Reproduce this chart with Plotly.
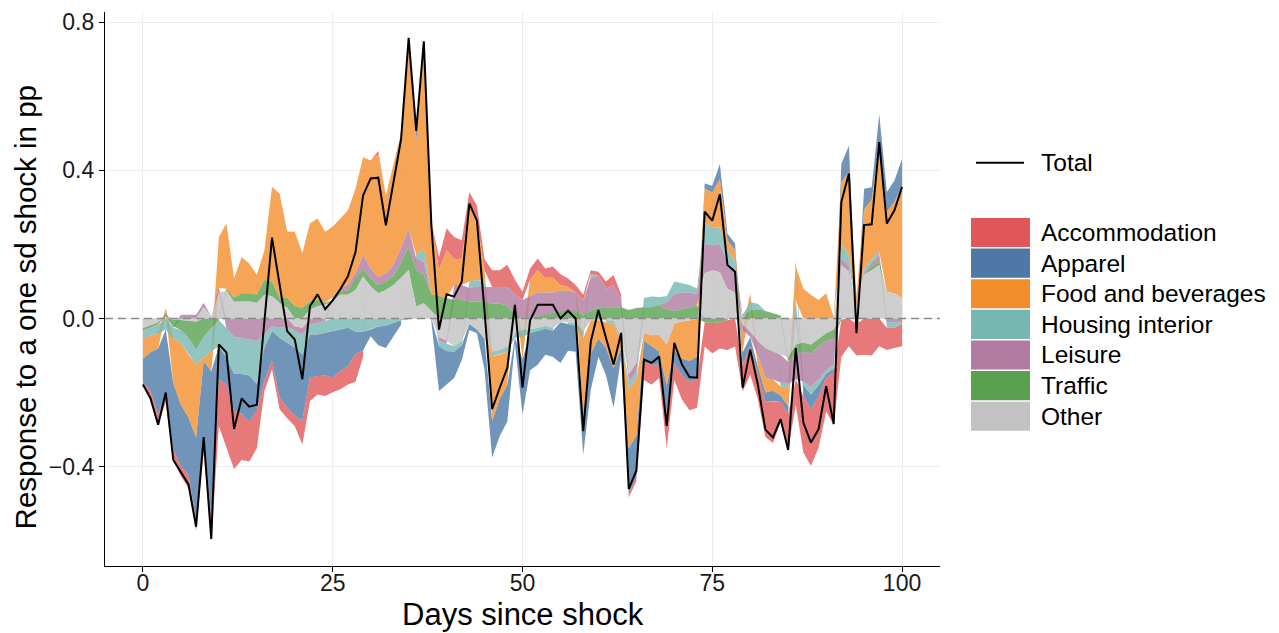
import numpy as np
import plotly.graph_objects as go

# ---- data -------------------------------------------------------------
days = list(range(101))

accommodation = [
    -0.006, -0.020, -0.027, -0.022, -0.027, -0.027, -0.036, -0.027, -0.047, -0.063,
    -0.125, -0.170, -0.156, -0.125, -0.107, -0.103, -0.028, -0.023, -0.032, -0.029,
    -0.029, -0.064, -0.064, -0.050, -0.055, -0.040, -0.050, -0.050, -0.075, -0.017,
    0.000, 0.009, 0.000, 0.000, 0.000, 0.000, 0.000, 0.000, 0.000, 0.036,
    0.058, 0.060, 0.050, 0.031, 0.040, 0.030, 0.045, 0.045, 0.060, 0.040,
    0.022, 0.030, 0.032, 0.025, 0.030, 0.030, 0.023, 0.020, 0.014, 0.010,
    0.011, 0.020, 0.027, 0.014, -0.008, -0.014, -0.056, -0.054, -0.036, -0.100,
    -0.046, -0.066, -0.078, -0.079, -0.066, -0.082, -0.071, -0.080, -0.076, -0.070,
    -0.077, -0.068, -0.095, -0.111, -0.057, -0.098, -0.068, -0.152, -0.153, -0.139,
    -0.091, -0.143, -0.100, -0.075, -0.085, -0.098, -0.100, -0.075, -0.060, -0.055,
    -0.060,
]
apparel = [
    -0.063, -0.105, -0.179, -0.175, -0.180, -0.166, -0.155, -0.224, -0.200, -0.394,
    -0.090, -0.072, -0.100, -0.107, -0.125, -0.071, -0.089, -0.080, -0.161, -0.174,
    -0.183, -0.179, -0.116, -0.112, -0.116, -0.125, -0.112, -0.103, -0.060, -0.050,
    -0.018, -0.050, -0.060, -0.035, -0.012, 0.000, 0.030, 0.018, -0.010, -0.121,
    -0.090, -0.071, -0.040, -0.016, -0.010, -0.085, -0.098, -0.100, -0.098, -0.016,
    -0.149, -0.100, -0.090, -0.070, -0.070, -0.110, -0.072, -0.070, -0.100, -0.097,
    -0.048, -0.073, -0.106, -0.023, -0.125, -0.110, -0.050, -0.050, -0.036, -0.070,
    -0.035, -0.045, -0.055, -0.060, 0.013, 0.018, 0.040, 0.019, 0.017, -0.035,
    -0.025, -0.020, -0.025, -0.030, -0.015, -0.020, 0.013, -0.030, -0.040, -0.030,
    -0.010, -0.010, 0.050, 0.070, -0.010, 0.056, 0.034, 0.076, 0.054, 0.058,
    0.071,
]
food = [
    -0.054, -0.045, -0.040, 0.013, -0.120, -0.166, -0.170, -0.197, -0.010, -0.054,
    0.138, 0.176, 0.053, 0.098, 0.080, 0.054, 0.080, 0.255, 0.282, 0.179,
    0.201, 0.147, 0.210, 0.219, 0.192, 0.190, 0.188, 0.201, 0.228, 0.264,
    0.291, 0.331, 0.210, 0.271, 0.310, 0.517, 0.304, 0.541, 0.195, 0.070,
    0.130, 0.070, 0.071, 0.210, 0.160, 0.030, -0.175, -0.120, -0.090, 0.000,
    -0.060, 0.045, 0.060, 0.040, 0.040, 0.015, 0.010, 0.000, -0.215, -0.090,
    -0.050, -0.070, -0.120, -0.020, -0.160, -0.150, -0.020, -0.030, -0.045, -0.110,
    -0.070, -0.100, -0.110, -0.100, 0.094, 0.094, 0.130, 0.025, 0.030, -0.060,
    0.024, -0.030, -0.040, -0.030, -0.025, -0.050, 0.090, 0.081, 0.063, 0.050,
    0.068, 0.003, 0.165, 0.225, 0.030, 0.160, 0.160, 0.295, 0.215, 0.246,
    0.304,
]
housing = [
    -0.020, -0.020, -0.024, -0.030, -0.030, -0.036, -0.045, -0.040, -0.055, -0.063,
    -0.070, -0.080, -0.100, -0.098, -0.098, -0.116, -0.036, -0.013, -0.027, -0.045,
    -0.045, -0.054, -0.027, -0.031, -0.031, -0.034, -0.029, -0.025, -0.036, -0.036,
    -0.030, -0.022, -0.020, -0.013, -0.005, -0.003, 0.010, 0.036, 0.000, -0.015,
    -0.020, -0.015, -0.012, 0.018, 0.018, 0.015, -0.013, -0.012, -0.015, -0.012,
    -0.020, -0.010, -0.010, -0.008, -0.008, 0.000, -0.005, -0.008, -0.018, 0.010,
    0.000, -0.005, -0.010, -0.010, -0.020, -0.020, 0.025, 0.029, 0.022, 0.017,
    0.035, 0.025, 0.020, 0.016, 0.054, 0.049, 0.045, 0.035, 0.035, 0.010,
    0.022, 0.015, 0.000, 0.000, -0.010, -0.010, 0.050, -0.010, -0.020, -0.015,
    -0.010, -0.010, 0.040, 0.030, 0.000, 0.012, 0.010, 0.009, -0.015, -0.015,
    -0.005,
]
leisure = [
    -0.003, -0.002, -0.002, 0.004, -0.003, 0.010, 0.010, 0.010, 0.012, 0.000,
    0.012, -0.026, -0.050, -0.052, -0.056, -0.061, -0.043, -0.021, -0.025, -0.021,
    -0.013, -0.018, -0.016, -0.012, -0.007, 0.008, 0.009, 0.015, 0.018, 0.036,
    0.027, 0.022, 0.022, 0.030, 0.040, 0.049, 0.030, 0.036, 0.000, -0.010,
    -0.008, 0.040, 0.040, 0.036, 0.040, 0.040, 0.045, 0.045, 0.050, 0.055,
    0.050, 0.060, 0.065, 0.060, 0.055, 0.055, 0.055, 0.050, 0.040, 0.090,
    0.085, 0.050, 0.060, 0.020, -0.020, -0.025, 0.000, 0.000, 0.000, 0.018,
    0.045, 0.045, 0.040, 0.030, 0.081, 0.067, 0.076, 0.070, 0.050, -0.015,
    -0.015, -0.040, -0.080, -0.075, -0.075, -0.060, -0.070, -0.080, -0.090, -0.090,
    -0.080, -0.070, 0.018, 0.015, -0.005, 0.005, 0.010, 0.018, -0.010, -0.010,
    -0.010,
]
traffic = [
    -0.006, -0.007, -0.005, 0.005, -0.018, -0.027, -0.047, -0.076, -0.050, -0.026,
    -0.005, 0.005, 0.010, 0.022, 0.022, 0.022, 0.040, 0.040, 0.013, 0.027,
    0.033, 0.029, 0.022, 0.018, 0.004, 0.004, 0.009, 0.012, 0.027, 0.022,
    0.022, 0.022, 0.022, 0.025, 0.040, 0.063, 0.100, 0.076, 0.045, 0.060,
    0.055, 0.050, 0.050, 0.046, 0.046, 0.045, 0.040, 0.040, 0.035, 0.010,
    0.000, 0.000, 0.005, 0.010, 0.015, 0.020, 0.020, 0.020, 0.010, 0.020,
    0.030, 0.030, 0.030, 0.030, 0.023, 0.028, 0.030, 0.030, 0.036, 0.025,
    0.020, 0.025, 0.030, 0.035, -0.010, -0.012, -0.010, -0.005, 0.000, 0.000,
    0.022, 0.025, 0.020, 0.015, 0.008, -0.012, -0.025, -0.025, -0.025, -0.020,
    -0.020, -0.025, -0.003, 0.000, 0.000, 0.000, 0.010, 0.009, 0.000, 0.000,
    0.000,
]
other = [
    -0.026, -0.017, -0.010, 0.005, -0.004, -0.004, -0.005, -0.008, 0.030, 0.005,
    0.070, 0.075, 0.045, 0.046, 0.046, 0.042, 0.064, 0.060, 0.042, 0.029,
    -0.021, -0.025, 0.024, 0.033, 0.038, 0.046, 0.064, 0.064, 0.077, 0.113,
    0.086, 0.068, 0.077, 0.090, 0.110, 0.131, 0.032, 0.041, 0.020, -0.050,
    -0.060, -0.075, -0.060, -0.015, -0.030, -0.055, -0.089, -0.085, -0.075, -0.040,
    -0.030, -0.030, -0.025, -0.020, -0.025, -0.010, -0.010, -0.012, -0.035, -0.005,
    -0.005, -0.005, -0.005, -0.050, -0.150, -0.120, -0.040, -0.045, -0.044, -0.070,
    -0.015, -0.008, -0.005, -0.002, 0.122, 0.130, 0.125, 0.080, 0.070, -0.017,
    -0.035, -0.060, -0.080, -0.090, -0.098, -0.105, -0.070, -0.065, -0.070, -0.055,
    -0.040, -0.030, 0.144, 0.126, 0.030, 0.117, 0.130, 0.144, 0.072, 0.068,
    0.055,
]

categories = ["Accommodation", "Apparel", "Food and beverages",
              "Housing interior", "Leisure", "Traffic", "Other"]
colors = ["#E15759", "#4E79A7", "#F28E2B", "#76B7B2", "#B07AA1", "#59A14F", "#C2C2C2"]

x_ticks = [0, 25, 50, 75, 100]
x_ticklabels = ["0", "25", "50", "75", "100"]
y_ticks = [-0.4, 0.0, 0.4, 0.8]
y_ticklabels = ["\u22120.4", "0.0", "0.4", "0.8"]

FONT = "Liberation Sans, Arial, Helvetica, sans-serif"


def rgba(hex_color, alpha):
    h = hex_color.lstrip("#")
    r, g, b = int(h[0:2], 16), int(h[2:4], 16), int(h[4:6], 16)
    return f"rgba({r},{g},{b},{alpha})"


# ---- stacking: positives upward, negatives downward, first category outermost
vals = np.array([accommodation, apparel, food, housing, leisure, traffic, other])
n_cat, n_day = vals.shape
lower = np.zeros_like(vals)
upper = np.zeros_like(vals)
pos_base = np.zeros(n_day)
neg_base = np.zeros(n_day)
for i in reversed(range(n_cat)):
    v = vals[i]
    is_pos = v >= 0
    lower[i] = np.where(is_pos, pos_base, neg_base + v)
    upper[i] = np.where(is_pos, pos_base + v, neg_base)
    pos_base = np.where(is_pos, pos_base + v, pos_base)
    neg_base = np.where(is_pos, neg_base, neg_base + v)
total = vals.sum(axis=0)

fig = go.Figure()

x_arr = np.array(days)
for i, name in enumerate(categories):
    fig.add_trace(go.Scatter(
        x=np.concatenate([x_arr, x_arr[::-1]]),
        y=np.concatenate([upper[i], lower[i][::-1]]),
        fill="toself",
        fillcolor=rgba(colors[i], 0.8),
        line=dict(width=0),
        mode="lines",
        name=name,
        hoverinfo="skip",
        showlegend=False,
    ))

# zero reference line
fig.add_trace(go.Scatter(
    x=[-5, 105], y=[0, 0], mode="lines",
    line=dict(color="#8a8a8a", width=1.5, dash="8px,5px"),
    hoverinfo="skip", showlegend=False,
))

# total response
fig.add_trace(go.Scatter(
    x=days, y=total, mode="lines", name="Total",
    line=dict(color="black", width=2),
    showlegend=False,
))

# ---- hand-drawn legend (paper coordinates) ---------------------------
L, R, T, B = 105, 940, 9, 566


def px_x(px):
    return (px - L) / (R - L)


def px_y(py):
    return (B - py) / (B - T)


shapes = []
annotations = []

# Total key
shapes.append(dict(type="line", xref="paper", yref="paper",
                   x0=px_x(976), x1=px_x(1024), y0=px_y(160.5), y1=px_y(160.5),
                   line=dict(color="black", width=2)))
annotations.append(dict(xref="paper", yref="paper", x=px_x(1039), y=px_y(160.5),
                        text="Total", showarrow=False, xanchor="left", yanchor="middle",
                        font=dict(family=FONT, size=24.5, color="black")))

box_top0, box_step, box_h = 216.0, 30.8, 29.3
for i, name in enumerate(categories):
    top = box_top0 + i * box_step
    shapes.append(dict(type="rect", xref="paper", yref="paper",
                       x0=px_x(971), x1=px_x(1030), y0=px_y(top + box_h), y1=px_y(top),
                       fillcolor=colors[i], line=dict(width=0)))
    annotations.append(dict(xref="paper", yref="paper", x=px_x(1039), y=px_y(top + box_h / 2),
                            text=name, showarrow=False, xanchor="left", yanchor="middle",
                            font=dict(family=FONT, size=24.5, color="black")))

# axis titles
annotations.append(dict(xref="paper", yref="paper", x=0.5, y=px_y(615),
                        text="Days since shock", showarrow=False,
                        xanchor="center", yanchor="middle",
                        font=dict(family=FONT, size=31, color="black")))
annotations.append(dict(xref="paper", yref="paper", x=px_x(25), y=px_y(306),
                        text="Response to a one sd shock in pp", showarrow=False,
                        textangle=-90, xanchor="center", yanchor="middle",
                        font=dict(family=FONT, size=29.5, color="black")))

fig.update_layout(
    width=1279, height=633,
    margin=dict(l=L, r=1279 - R, t=T, b=633 - B),
    plot_bgcolor="white", paper_bgcolor="white",
    showlegend=False,
    font=dict(family=FONT, size=23, color="#1a1a1a"),
    shapes=shapes,
    annotations=annotations,
    xaxis=dict(
        range=[-5, 105], tickvals=x_ticks, ticktext=x_ticklabels,
        showgrid=True, gridcolor="#EDEDED", gridwidth=1, zeroline=False,
        showline=True, linecolor="black", linewidth=1.3,
        ticks="outside", ticklen=5, tickwidth=1.3, tickcolor="black",
        ticklabelstandoff=-9,
        tickfont=dict(family=FONT, size=23, color="#1a1a1a"),
    ),
    yaxis=dict(
        range=[-0.668, 0.827], tickvals=y_ticks, ticktext=y_ticklabels,
        showgrid=True, gridcolor="#EDEDED", gridwidth=1, zeroline=False,
        showline=True, linecolor="black", linewidth=1.3,
        ticks="outside", ticklen=5, tickwidth=1.3, tickcolor="black",
        tickfont=dict(family=FONT, size=23, color="#1a1a1a"),
    ),
)

fig.write_html("out.html", post_script="document.body.style.margin='0';")
